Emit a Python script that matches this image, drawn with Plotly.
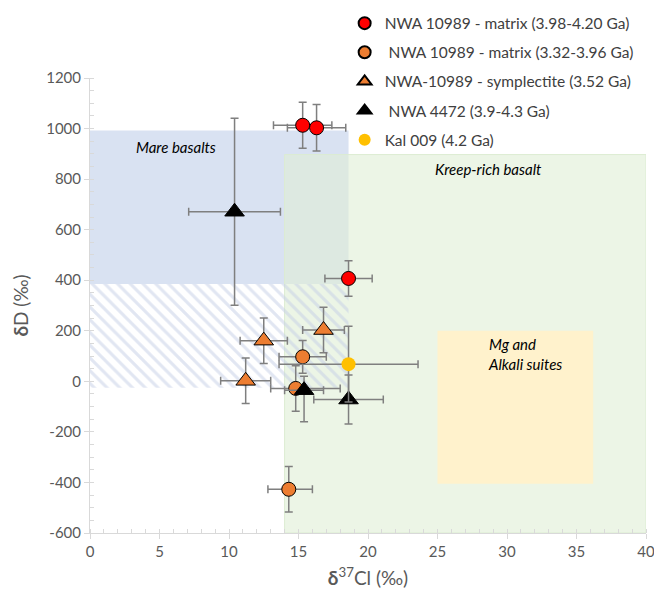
import plotly.graph_objects as go

# ---------------- data ----------------
red_x = [15.3, 16.3, 18.6]
red_y = [1013, 1003, 407]
red_xerr = [2.1, 2.1, 1.7]
red_yerr = [91, 92, 70]

orc_x = [15.3, 14.8, 14.3]
orc_y = [97, -28, -427]
orc_xerr_plus = [1.7, 3.2, 1.7]
orc_xerr_minus = [1.7, 1.8, 1.5]
orc_yerr = [65, 90, 90]

ort_x = [12.5, 16.8, 11.2]
ort_y = [161, 203, 2]
ort_xerr = [1.7, 1.5, 1.8]
ort_yerr = [90, 90, 90]

blk_x = [10.4, 15.4, 18.6]
blk_y = [671, -35, -72]
blk_xerr = [3.3, 1.4, 2.5]
blk_yerr_plus = [370, 55, 97]
blk_yerr_minus = [370, 125, 97]

kal_x = [18.6]
kal_y = [68]
kal_xerr = [5.0]
kal_yerr = [150]

names = [
    "NWA 10989 - matrix (3.98-4.20 Ga)",
    "\u00a0NWA 10989 - matrix (3.32-3.96 Ga)",
    "NWA-10989 - symplectite (3.52 Ga)",
    "\u00a0NWA 4472 (3.9-4.3 Ga)",
    "Kal 009 (4.2 Ga)",
]

# field regions [x0, x1, y0, y1]
mare_box = [0, 18.6, 385, 992]
mare_hatch = [0, 18.6, -25, 385]
kreep_box = [14.0, 40, -600, 897]
mg_box = [25.0, 36.2, -405, 200]

region_labels = ["Mare basalts", "Kreep-rich basalt", "Mg and<br>Alkali suites"]
region_label_x = [6.2, 28.7, 28.5]
region_label_y = [928, 840, 108]

x_ticks = [0, 5, 10, 15, 20, 25, 30, 35, 40]
y_ticks = [-600, -400, -200, 0, 200, 400, 600, 800, 1000, 1200]

FONT = "Lato, 'Open Sans', sans-serif"
ERR_COL = "#7f7f7f"

fig = go.Figure()

# hatched area (trace so it can use a fill pattern)
hx0, hx1, hy0, hy1 = mare_hatch
fig.add_trace(go.Scatter(
    x=[hx0, hx1, hx1, hx0, hx0], y=[hy0, hy0, hy1, hy1, hy0],
    mode="lines", fill="toself", line=dict(width=0, color="rgba(0,0,0,0)"),
    fillcolor="rgba(0,0,0,0)",
    fillpattern=dict(shape="\\", fgcolor="#c3cde6", bgcolor="rgba(0,0,0,0)",
                     size=9, solidity=0.35),
    showlegend=False, hoverinfo="skip"))


def err(arr, minus=None):
    d = dict(type="data", array=arr, color=ERR_COL, thickness=1.5, width=4)
    if minus is not None:
        d["symmetric"] = False
        d["arrayminus"] = minus
    else:
        d["symmetric"] = True
    return d


fig.add_trace(go.Scatter(
    x=red_x, y=red_y, mode="markers", name=names[0], legendgroup="a",
    error_x=err(red_xerr), error_y=err(red_yerr),
    marker=dict(symbol="circle", size=14, color="#ff0000",
                line=dict(color="#000000", width=1))))

fig.add_trace(go.Scatter(
    x=orc_x, y=orc_y, mode="markers", name=names[1], legendgroup="b",
    error_x=err(orc_xerr_plus, orc_xerr_minus), error_y=err(orc_yerr),
    marker=dict(symbol="circle", size=14, color="#ed7d31",
                line=dict(color="#000000", width=1))))

fig.add_trace(go.Scatter(
    x=ort_x, y=ort_y, mode="markers", name=names[2], legendgroup="c",
    error_x=err(ort_xerr), error_y=err(ort_yerr),
    marker=dict(symbol="triangle-up", size=17, color="#ed7d31",
                line=dict(color="#000000", width=1))))

fig.add_trace(go.Scatter(
    x=blk_x, y=blk_y, mode="markers", name=names[3], legendgroup="d",
    error_x=err(blk_xerr), error_y=err(blk_yerr_plus, blk_yerr_minus),
    marker=dict(symbol="triangle-up", size=17, color="#000000",
                line=dict(color="#000000", width=1))))

fig.add_trace(go.Scatter(
    x=kal_x, y=kal_y, mode="markers", name=names[4], legendgroup="e",
    error_x=err(kal_xerr), error_y=err(kal_yerr),
    marker=dict(symbol="circle", size=14, color="#ffc000",
                line=dict(width=0))))

# region shapes
shapes = []
bx0, bx1, by0, by1 = mare_box
shapes.append(dict(type="rect", xref="x", yref="y", x0=bx0, x1=bx1, y0=by0, y1=by1,
                   fillcolor="#d9e2f2", line=dict(width=0), layer="below"))
kx0, kx1, ky0, ky1 = kreep_box
shapes.append(dict(type="rect", xref="x", yref="y", x0=kx0, x1=kx1, y0=ky0, y1=ky1,
                   fillcolor="rgba(224,239,214,0.6)",
                   line=dict(width=1, color="#dcecd2"), layer="below"))
mx0, mx1, my0, my1 = mg_box
shapes.append(dict(type="rect", xref="x", yref="y", x0=mx0, x1=mx1, y0=my0, y1=my1,
                   fillcolor="#fff2cc", line=dict(width=0), layer="below"))

annotations = []
for t, ax_, ay_ in zip(region_labels, region_label_x, region_label_y):
    annotations.append(dict(
        x=ax_, y=ay_, xref="x", yref="y", text="<i>" + t + "</i>", showarrow=False,
        align="left", font=dict(family=FONT, size=15, color="#000000"),
        xanchor="center" if "<br>" not in t else "left"))

fig.update_layout(
    width=654, height=596,
    margin=dict(l=90, r=8, t=78, b=63, autoexpand=False),
    paper_bgcolor="white", plot_bgcolor="white",
    font=dict(family=FONT, color="#595959"),
    shapes=shapes, annotations=annotations,
    showlegend=True,
    legend=dict(x=0.458, y=1.157, xanchor="left", yanchor="top",
                font=dict(family=FONT, size=15.5, color="#404040"),
                bgcolor="rgba(0,0,0,0)", tracegroupgap=6,
                itemsizing="constant", itemwidth=30),
    hovermode=False,
)

fig.update_xaxes(
    range=[0, 40], tickvals=x_ticks, ticktext=[str(v) for v in x_ticks],
    automargin=False, ticklabeloverflow="allow",
    showgrid=False, zeroline=False, showline=True, linecolor="#d9d9d9", linewidth=1,
    ticks="outside", ticklen=5, tickcolor="#d9d9d9",
    minor=dict(dtick=1, ticks="inside", ticklen=4, tickcolor="#d9d9d9"),
    tickfont=dict(family=FONT, size=15, color="#595959"),
    title=dict(text="<b>δ</b><sup>37</sup>Cl (‰)", font=dict(family=FONT, size=19, color="#595959"),
               standoff=12),
)
fig.update_yaxes(
    range=[-600, 1200], tickvals=y_ticks, ticktext=[str(v) for v in y_ticks],
    automargin=False,
    showgrid=False, zeroline=False, showline=True, linecolor="#d9d9d9", linewidth=1,
    ticks="outside", ticklen=5, tickcolor="#d9d9d9",
    minor=dict(dtick=50, ticks="inside", ticklen=4, tickcolor="#d9d9d9"),
    tickfont=dict(family=FONT, size=15, color="#595959"),
    title=dict(text="<b>δ</b>D (‰)", font=dict(family=FONT, size=19, color="#595959"),
               standoff=12),
)

fig.write_html("out.html")
